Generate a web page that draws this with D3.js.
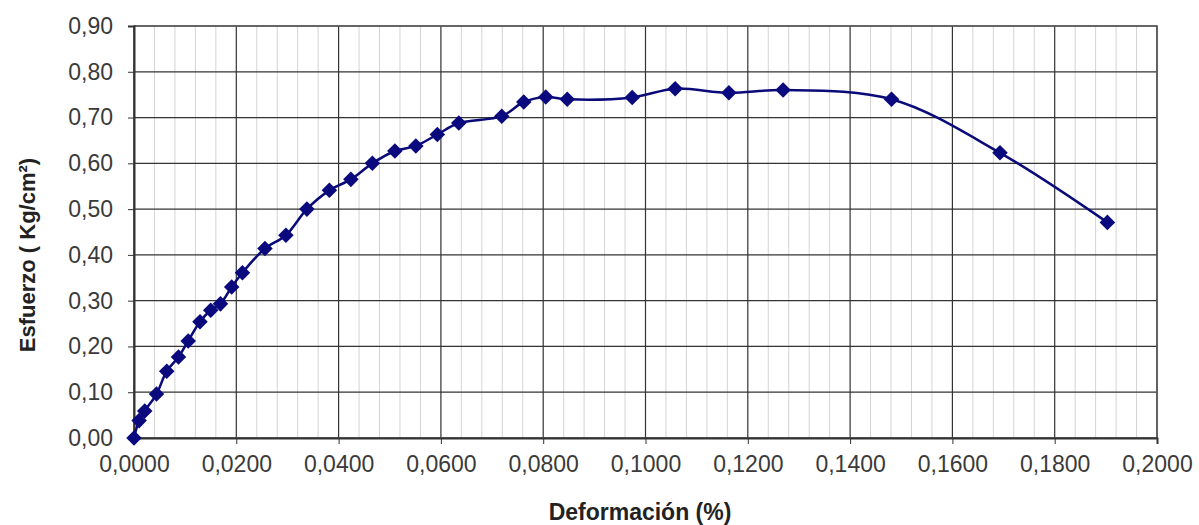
<!DOCTYPE html>
<html>
<head>
<meta charset="utf-8">
<script src="https://cdnjs.cloudflare.com/ajax/libs/d3/7.8.5/d3.min.js"></script>
<style>
  body { margin: 0; background: #fff; }
  svg { display: block; }
  .tick text { font-family: "Liberation Sans", Arial, sans-serif; fill: #3a3a3a; }
</style>
</head>
<body>
<svg id="chart"></svg>
<script>
// readings
var deformacion = [0.0000, 0.0010, 0.0021, 0.0044, 0.0064, 0.0087, 0.0106, 0.0129, 0.0150, 0.0169,
                   0.0191, 0.0212, 0.0256, 0.0297, 0.0338, 0.0382, 0.0424, 0.0466, 0.0510, 0.0551,
                   0.0593, 0.0635, 0.0719, 0.0762, 0.0805, 0.0847, 0.0974, 0.1058, 0.1163, 0.1269,
                   0.1481, 0.1693, 0.1903];
var esfuerzo = [0.000, 0.038, 0.059, 0.096, 0.146, 0.177, 0.212, 0.254, 0.279, 0.293,
                0.330, 0.361, 0.414, 0.443, 0.500, 0.541, 0.565, 0.600, 0.627, 0.638,
                0.663, 0.688, 0.703, 0.734, 0.745, 0.740, 0.744, 0.763, 0.754, 0.760,
                0.740, 0.623, 0.471];
var xTicks = [0, 0.02, 0.04, 0.06, 0.08, 0.10, 0.12, 0.14, 0.16, 0.18, 0.20];
var yTicks = [0, 0.1, 0.2, 0.3, 0.4, 0.5, 0.6, 0.7, 0.8, 0.9];

var W = 1199, H = 525;
var margin = {top: 26, right: 42, bottom: 87, left: 134};
var width = W - margin.left - margin.right,
    height = H - margin.top - margin.bottom;

var svg = d3.select("#chart").attr("width", W).attr("height", H);
var g = svg.append("g").attr("transform", "translate(" + margin.left + "," + margin.top + ")");

var x = d3.scaleLinear().domain([0, 0.2]).range([0, width]);
var y = d3.scaleLinear().domain([0, 0.9]).range([height, 0]);

var fmt = function (d, n) { return d.toFixed(n).replace(".", ","); };

// minor verticals
var minor = d3.range(0, 50).map(function (i) { return i * 0.004; }).filter(function (v, i) { return i % 5 !== 0; });
g.selectAll(".minor").data(minor).enter().append("line")
  .attr("x1", function (d) { return x(d); }).attr("x2", function (d) { return x(d); })
  .attr("y1", 0).attr("y2", height)
  .attr("stroke", "#d4d4d4").attr("stroke-width", 1);

// major grid
g.selectAll(".vmaj").data(xTicks).enter().append("line")
  .attr("x1", function (d) { return x(d); }).attr("x2", function (d) { return x(d); })
  .attr("y1", 0).attr("y2", height)
  .attr("stroke", "#333").attr("stroke-width", 1.2);
g.selectAll(".hmaj").data(yTicks).enter().append("line")
  .attr("y1", function (d) { return y(d); }).attr("y2", function (d) { return y(d); })
  .attr("x1", 0).attr("x2", width)
  .attr("stroke", "#333").attr("stroke-width", 1.2);

g.append("rect").attr("width", width).attr("height", height)
  .attr("fill", "none").attr("stroke", "#555").attr("stroke-width", 1.5);

// axes
var xAxis = d3.axisBottom(x).tickValues(xTicks).tickSize(6).tickPadding(10)
  .tickFormat(function (d) { return fmt(d, 4); });
var gx = g.append("g").attr("transform", "translate(0," + height + ")").call(xAxis);
var yAxis = d3.axisLeft(y).tickValues(yTicks).tickSize(6).tickPadding(15)
  .tickFormat(function (d) { return fmt(d, 2); });
var gy = g.append("g").call(yAxis);
[gx, gy].forEach(function (a) {
  a.select(".domain").attr("stroke", "#333").attr("stroke-width", 2);
  a.selectAll(".tick line").attr("stroke", "#333");
  a.selectAll(".tick text").style("font-size", "23px");
});
gx.selectAll(".tick text").attr("dy", "0.78em");

// series
var pts = deformacion.map(function (d, i) { return [d, esfuerzo[i]]; });
var line = d3.line()
  .x(function (d) { return x(d[0]); })
  .y(function (d) { return y(d[1]); })
  .curve(d3.curveCatmullRom.alpha(0.5));
g.append("path").datum(pts)
  .attr("fill", "none").attr("stroke", "#0a0a78").attr("stroke-width", 2.5)
  .attr("d", line);

g.selectAll(".pt").data(pts).enter().append("rect")
  .attr("x", -5.5).attr("y", -5.5).attr("width", 11).attr("height", 11)
  .attr("fill", "#0a0a7e")
  .attr("transform", function (d) { return "translate(" + x(d[0]) + "," + y(d[1]) + ") rotate(45)"; });

// titles
svg.append("text")
  .attr("x", 640).attr("y", 520)
  .attr("text-anchor", "middle")
  .style("font-family", "Liberation Sans, Arial, sans-serif")
  .style("font-weight", "bold").style("font-size", "23px").attr("fill", "#222")
  .text("Deformación (%)");
svg.append("text")
  .attr("transform", "translate(35,255) rotate(-90)")
  .attr("text-anchor", "middle")
  .style("font-family", "Liberation Sans, Arial, sans-serif")
  .style("font-weight", "bold").style("font-size", "22px").attr("fill", "#222")
  .text("Esfuerzo ( Kg/cm²)");
</script>
</body>
</html>
